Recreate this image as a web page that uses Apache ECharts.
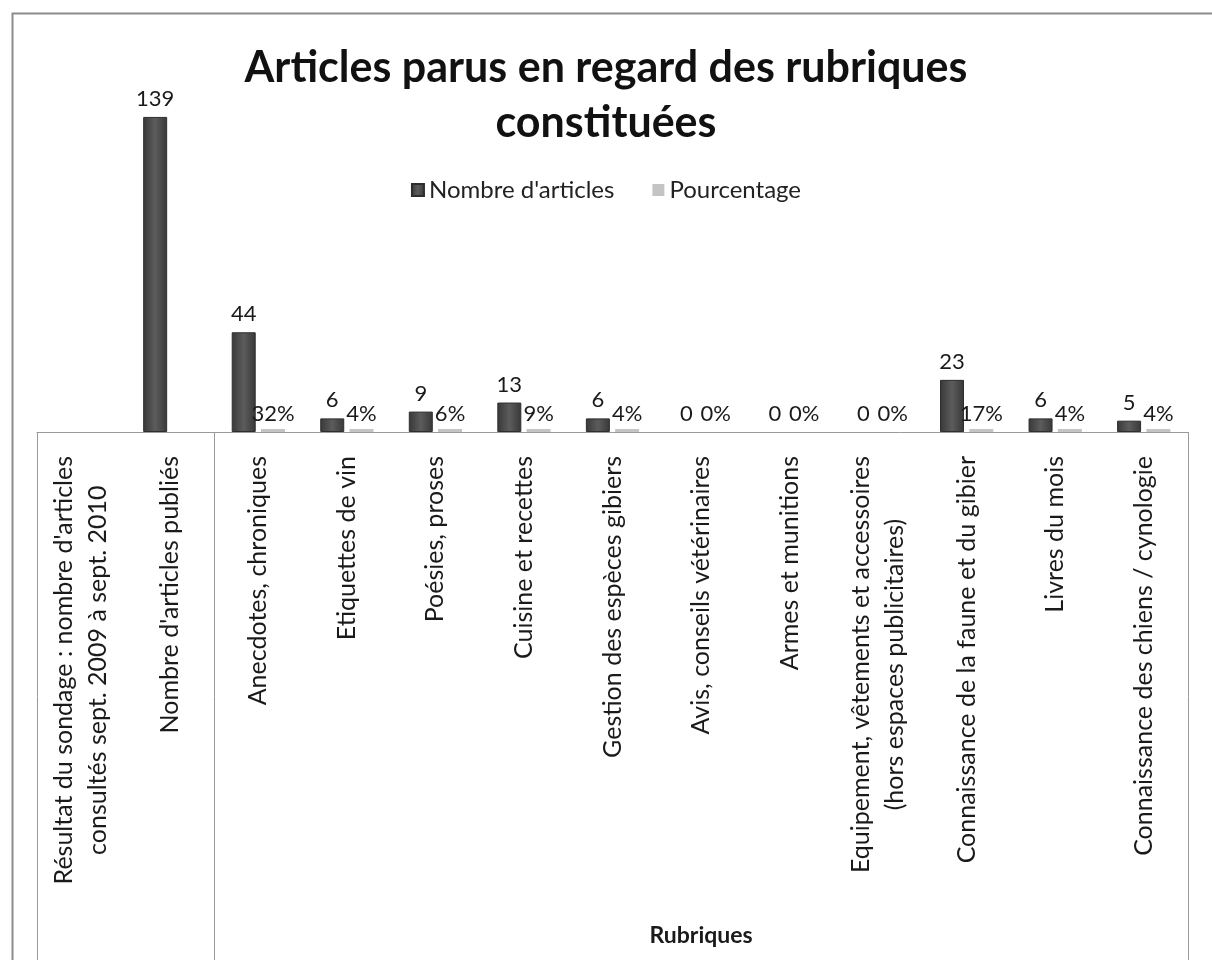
<!DOCTYPE html>
<html>
<head>
<meta charset="utf-8">
<script src="https://cdn.jsdelivr.net/npm/echarts@6/dist/echarts.min.js"></script>
<style>
  html, body { margin: 0; padding: 0; background: #fff; }
  #main { width: 1212px; height: 960px; }
</style>
</head>
<body>
<div id="main"></div>
<script>
// categories (inner level of the axis)
var categories = [
    "Résultat du sondage : nombre d'articles\nconsultés sept. 2009 à sept. 2010",
    "Nombre d'articles publiés",
    "Anecdotes, chroniques",
    "Etiquettes de vin",
    "Poésies, proses",
    "Cuisine et recettes",
    "Gestion des espèces gibiers",
    "Avis, conseils vétérinaires",
    "Armes et munitions",
    "Equipement, vêtements et accessoires\n(hors espaces publicitaires)",
    "Connaissance de la faune et du gibier",
    "Livres du mois",
    "Connaissance des chiens / cynologie"
];
// outer level of the axis
var outerLabels = ['', '', '', '', '', '', '', 'Rubriques', '', '', '', '', ''];

// series values
var nbArticles = [null, 139, 44, 6, 9, 13, 6, 0, 0, 0, 23, 6, 5];
var pourcentage = [null, null, 0.32, 0.04, 0.06, 0.09, 0.04, 0, 0, 0, 0.17, 0.04, 0.04];

var font = 'Lato';

var myChart = echarts.init(document.getElementById('main'));

var darkColor = {
    type: 'linear', x: 0, y: 0, x2: 1, y2: 0,
    colorStops: [
        { offset: 0, color: '#383838' },
        { offset: 0.5, color: '#5c5c5c' },
        { offset: 1, color: '#383838' }
    ]
};

// les barres à zéro ne se voient pas
function buildData(values) {
    return values.map(function (v) {
        if (v === 0) {
            return { value: v, itemStyle: { color: 'rgba(0,0,0,0)', borderWidth: 0 } };
        }
        return v;
    });
}

var option = {
    animation: false,
    backgroundColor: '#fff',
    title: {
        text: 'Articles parus en regard des rubriques\nconstituées',
        left: 'center',
        top: 36,
        textStyle: {
            fontFamily: font,
            fontSize: 43,
            fontWeight: 'bold',
            color: '#111',
            lineHeight: 55
        }
    },
    legend: {
        top: 173,
        left: 'center',
        itemWidth: 12,
        itemHeight: 12,
        itemGap: 38,
        icon: 'rect',
        textStyle: { fontFamily: font, fontSize: 24, color: '#222' },
        data: ["Nombre d'articles", 'Pourcentage']
    },
    grid: {
        left: 37,
        right: 24,
        top: 92,
        bottom: 528
    },
    xAxis: [{
        type: 'category',
        data: categories,
        axisLine: { lineStyle: { color: '#999', width: 1 } },
        axisTick: {
            show: true,
            interval: function (index) { return index === 0 || index === 2; },
            length: 540,
            lineStyle: { color: '#999', width: 1 }
        },
        axisLabel: {
            interval: 0,
            rotate: 90,
            margin: 24,
            color: '#1a1a1a',
            fontFamily: font,
            fontSize: 25,
            lineHeight: 34,
            formatter: function (v) {
                return v.split('\n').map(function (s) { return '{c|' + s + '}'; }).join('\n');
            },
            rich: {
                c: { align: 'center', fontFamily: font, fontSize: 25, lineHeight: 34, color: '#1a1a1a' }
            }
        }
    }, {
        type: 'category',
        position: 'bottom',
        offset: 492,
        data: outerLabels,
        axisLine: { show: false },
        axisTick: { show: false },
        axisLabel: {
            interval: 0,
            margin: 0,
            color: '#1a1a1a',
            fontFamily: font,
            fontSize: 23,
            fontWeight: 'bold'
        }
    }],
    yAxis: {
        type: 'value',
        show: false,
        min: 0,
        max: 150,
        splitLine: { show: false }
    },
    series: [{
        name: "Nombre d'articles",
        type: 'bar',
        barWidth: 24,
        barGap: '22%',
        data: buildData(nbArticles),
        itemStyle: { color: darkColor, borderColor: '#2e2e2e', borderWidth: 1 },
        label: {
            show: true,
            position: 'top',
            distance: 7,
            fontFamily: font,
            fontSize: 22,
            color: '#1a1a1a'
        }
    }, {
        name: 'Pourcentage',
        type: 'bar',
        barWidth: 24,
        barMinHeight: 3,
        data: buildData(pourcentage),
        itemStyle: { color: '#c4c4c4' },
        label: {
            show: true,
            position: 'top',
            distance: 4,
            fontFamily: font,
            fontSize: 22,
            color: '#1a1a1a',
            formatter: function (p) { return Math.round(p.value * 100) + '%'; }
        }
    }],
    graphic: [{
        type: 'rect',
        left: 10,
        top: 11,
        shape: { width: 1300, height: 1000 },
        style: { fill: null, stroke: '#8c8c8c', lineWidth: 2 },
        silent: true
    }]
};

myChart.setOption(option);
</script>
</body>
</html>
